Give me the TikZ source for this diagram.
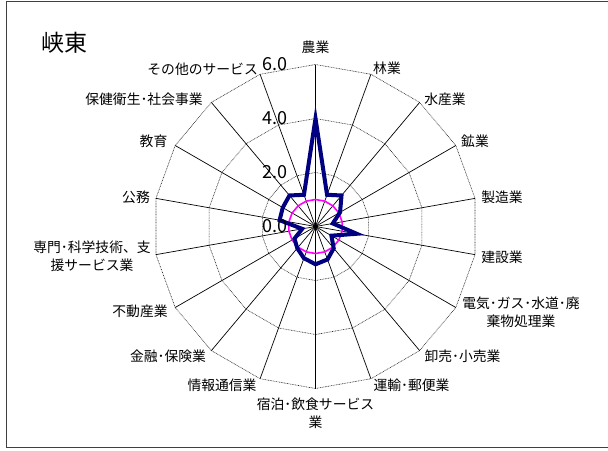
\documentclass[tikz,border=0pt]{standalone}
\usepackage{fontspec}
\setmainfont{Noto Sans CJK JP}
\definecolor{seriesblue}{RGB}{0,0,128}
\definecolor{refmagenta}{RGB}{255,0,255}
\tikzset{
  gridring/.style={line width=0.6pt, dash pattern=on 0.8pt off 0.8pt, black!85},
  spoke/.style={line width=0.7pt, black},
  series/.style={line width=4pt, seriesblue, line join=miter, miter limit=20},
  refline/.style={line width=1.6pt, refmagenta},
  catlabel/.style={font=\fontsize{13.8}{18}\selectfont, align=center, inner sep=0pt},
  ticklabel/.style={font=\fontsize{18}{20}\selectfont, anchor=east, inner sep=0pt},
  frameline/.style={line width=1pt, black!75}
}
\begin{document}
\begin{tikzpicture}[x=1pt,y=-1pt]
\useasboundingbox (0,0) rectangle (608,450);
\fill[white] (0,0) rectangle (608,450);
\draw[frameline] (608,1) -- (6.5,1) -- (6.5,447) -- (608,447);
\node[font=\fontsize{23}{25}\selectfont, inner sep=0pt] (title) at (64,43) {峡東};

\begin{scope}[shift={(315.5,226.5)}, x=1pt, y=1pt]
  % grid rings
  \foreach \v in {2,4,6} {
    \draw[gridring] (90:{\v*27}) \foreach \i in {1,...,17} { -- ({90-20*\i}:{\v*27}) } -- cycle;
  }
  % spokes
  \foreach \i in {0,...,17} {
    \draw[spoke] (0,0) -- ({90-20*\i}:162);
  }
  \fill[black] (0,0) circle (2.3);
  % reference at 1.0
  \draw[refline] (90:27) \foreach \i in {1,...,17} { -- ({90-20*\i}:27) } -- cycle;
  % data series
  \def\vals{4.0,1.25,1.5,1.05,0.65,1.55,0.68,1.05,1.3,1.4,1.25,1.05,0.9,0.5,1.35,1.4,1.5,1.25}
  \draw[series] (90:{4.0*27})
    \foreach \r [count=\i from 0] in \vals { -- ({90-20*\i}:{\r*27}) } -- cycle;
\end{scope}

% tick labels
\node[ticklabel] (t0) at (287.5,226.5) {0.0};
\node[ticklabel] (t2) at (287.5,172.5) {2.0};
\node[ticklabel] (t4) at (287.5,118.5) {4.0};
\node[ticklabel] (t6) at (287.5,64.5) {6.0};

% category labels
\node[catlabel] (c0) at (315.5,47) {農業};
\node[catlabel] (c1) at (387,68) {林業};
\node[catlabel] (c2) at (445,99) {水産業};
\node[catlabel] (c3) at (475,141) {鉱業};
\node[catlabel] (c4) at (502,197.5) {製造業};
\node[catlabel] (c5) at (502,257.5) {建設業};
\node[catlabel] (c6) at (521,312) {電気･ガス･水道･廃\\棄物処理業};
\node[catlabel] (c7) at (462.5,356) {卸売･小売業};
\node[catlabel] (c8) at (411.5,385) {運輸･郵便業};
\node[catlabel] (c9) at (315.5,413) {宿泊･飲食サービス\\業};
\node[catlabel] (c10) at (222,385) {情報通信業};
\node[catlabel] (c11) at (168,356) {金融･保険業};
\node[catlabel] (c12) at (140,311) {不動産業};
\node[catlabel] (c13) at (92,256.5) {専門･科学技術、支\\援サービス業};
\node[catlabel] (c14) at (136,197.5) {公務};
\node[catlabel] (c15) at (153.5,141) {教育};
\node[catlabel] (c16) at (144,99) {保健衛生･社会事業};
\node[catlabel, anchor=east] (c17) at (258,69) {その他のサービス};
\end{tikzpicture}
\end{document}
